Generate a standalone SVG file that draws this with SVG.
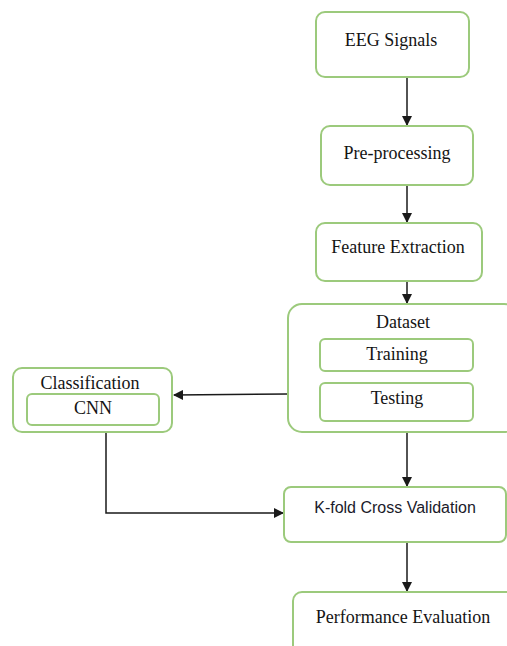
<svg xmlns="http://www.w3.org/2000/svg" width="507" height="646" viewBox="0 0 507 646">
<style>
.box{fill:#fff;stroke:#9cca7c;stroke-width:2}
.t{font-family:"Liberation Serif","Times New Roman",serif;font-size:18px;fill:#141414;text-anchor:middle}
.s{font-family:"Liberation Sans",Arial,sans-serif;font-size:16px;fill:#1a1a2a;text-anchor:middle}
.c{fill:none;stroke:#1a1a1a;stroke-width:1.5}
</style>
<defs>
<marker id="ah" markerWidth="10" markerHeight="10" refX="9" refY="5" orient="auto" markerUnits="userSpaceOnUse">
<path d="M0,0 L10,5 L0,10 Z" fill="#1a1a1a"/>
</marker>
</defs>
<rect width="507" height="646" fill="#fff"/>
<g id="connectors">
<line class="c" x1="407" y1="77" x2="407" y2="125" marker-end="url(#ah)"/>
<line class="c" x1="407" y1="185" x2="407" y2="222" marker-end="url(#ah)"/>
<line class="c" x1="407" y1="281" x2="407" y2="303" marker-end="url(#ah)"/>
<line class="c" x1="288" y1="394" x2="174" y2="395" marker-end="url(#ah)"/>
<polyline class="c" points="106,432 106,513 283,513" marker-end="url(#ah)"/>
<line class="c" x1="407" y1="432" x2="407" y2="486" marker-end="url(#ah)"/>
<line class="c" x1="407" y1="542" x2="407" y2="591" marker-end="url(#ah)"/>
</g>
<g id="eeg">
<rect class="box" x="316" y="12" width="153" height="65" rx="9"/>
<text class="t" x="391" y="46">EEG Signals</text>
</g>
<g id="preprocessing">
<rect class="box" x="321" y="126" width="152" height="59" rx="9"/>
<text class="t" x="397" y="159">Pre-processing</text>
</g>
<g id="feature">
<rect class="box" x="316" y="223" width="166" height="58" rx="9"/>
<text class="t" x="398" y="253">Feature Extraction</text>
</g>
<g id="dataset">
<rect class="box" x="288" y="304" width="230" height="128" rx="14"/>
<text class="t" x="403" y="328">Dataset</text>
<rect class="box" x="320" y="339" width="153" height="32" rx="5"/>
<text class="t" x="397" y="360">Training</text>
<rect class="box" x="320" y="383" width="153" height="38" rx="5"/>
<text class="t" x="397" y="404">Testing</text>
</g>
<g id="classification">
<rect class="box" x="13" y="368" width="159" height="64" rx="9"/>
<text class="t" x="90" y="389">Classification</text>
<rect class="box" x="27" y="394" width="132" height="31" rx="5"/>
<text class="t" x="93" y="414">CNN</text>
</g>
<g id="kfold">
<rect class="box" x="284" y="487" width="222" height="55" rx="7"/>
<text class="s" x="395" y="513">K-fold Cross Validation</text>
</g>
<g id="performance">
<rect class="box" x="293" y="592" width="230" height="70" rx="9"/>
<text class="t" x="403" y="623">Performance Evaluation</text>
</g>
</svg>
